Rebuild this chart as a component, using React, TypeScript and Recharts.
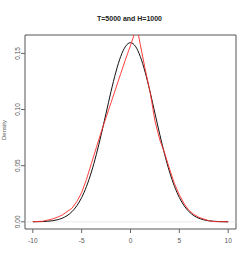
import React from "react";
import { LineChart, Line, XAxis, YAxis, ReferenceArea, ReferenceLine } from "recharts";

const titleText = "T=5000 and H=1000";
const yLabel = "Density";
const xTicks = [-10, -5, 0, 5, 10];
const yTicks = [0, 0.05, 0.1, 0.15];
const yTickLabels = ["0.00", "0.05", "0.10", "0.15"];

const blackX = [-10, -9.5, -9, -8.5, -8, -7.5, -7, -6.5, -6, -5.5, -5, -4.5, -4, -3.5, -3, -2.5, -2, -1.5, -1, -0.5, 0, 0.5, 1, 1.5, 2, 2.5, 3, 3.5, 4, 4.5, 5, 5.5, 6, 6.5, 7, 7.5, 8, 8.5, 9, 9.5, 10];
const blackY = [0.00005, 0.00012, 0.00024, 0.00049, 0.00095, 0.00177, 0.00317, 0.00543, 0.00896, 0.0142, 0.0216, 0.0316, 0.0444, 0.0599, 0.0777, 0.0968, 0.1159, 0.1333, 0.1473, 0.1564, 0.1596, 0.1564, 0.1473, 0.1333, 0.1159, 0.0968, 0.0777, 0.0599, 0.0444, 0.0316, 0.0216, 0.0142, 0.00896, 0.00543, 0.00317, 0.00177, 0.00095, 0.00049, 0.00024, 0.00012, 0.00005];

const redX = [-10, -9, -8, -7.5, -7, -6.5, -6, -5.5, -5, -4.5, -4, -3.5, -3, -2.5, -2, -1.5, -1, -0.5, 0, 0.65, 1, 1.5, 2, 2.5, 3, 3.5, 4, 4.5, 5, 5.5, 6, 6.5, 7, 7.5, 8, 8.5, 9, 10];
const redY = [0.0001, 0.0005, 0.0025, 0.004, 0.006, 0.009, 0.012, 0.018, 0.026, 0.038, 0.052, 0.066, 0.08, 0.093, 0.106, 0.119, 0.132, 0.145, 0.157, 0.174, 0.158, 0.136, 0.116, 0.09, 0.073, 0.061, 0.047, 0.034, 0.024, 0.016, 0.01, 0.0065, 0.004, 0.0025, 0.001, 0.0003, 0.0001, 0];

const blackData = blackX.map((x, i) => ({ x, y: blackY[i] }));
const redData = redX.map((x, i) => ({ x, y: redY[i] }));

const FONT = "'Liberation Sans', Arial, sans-serif";
const X_DOMAIN: [number, number] = [-10.8, 10.8];
const Y_DOMAIN: [number, number] = [-0.0064, 0.1664];

const YTick = (props: any) => {
  const { x, y, payload } = props;
  const idx = yTicks.indexOf(payload.value);
  const label = idx >= 0 ? yTickLabels[idx] : String(payload.value);
  const bx = x + 2;
  return (
    <text
      x={bx}
      y={y}
      transform={`rotate(-90, ${bx}, ${y})`}
      textAnchor="middle"
      fontSize={6.5}
      fill="#555"
      fontFamily={FONT}
    >
      {label}
    </text>
  );
};

export default function App() {
  return (
    <div style={{ position: "absolute", left: 0, top: 0, width: 249, height: 273, background: "#fff" }}>
      <div
        style={{
          position: "absolute",
          left: 0,
          width: 259,
          top: 14,
          textAlign: "center",
          fontFamily: FONT,
          fontWeight: "bold",
          fontSize: 7,
          color: "#222",
          lineHeight: "9px",
        }}
      >
        {titleText}
      </div>
      <div
        style={{
          position: "absolute",
          left: -16,
          top: 126,
          width: 40,
          textAlign: "center",
          transform: "rotate(-90deg)",
          fontFamily: FONT,
          fontSize: 6,
          color: "#555",
          lineHeight: "8px",
        }}
      >
        {yLabel}
      </div>
      <LineChart width={249} height={273} margin={{ top: 35, right: 13, bottom: 24, left: 5 }}>
        <XAxis
          dataKey="x"
          type="number"
          domain={X_DOMAIN}
          ticks={xTicks}
          allowDataOverflow
          axisLine={false}
          tickLine={{ stroke: "#666" }}
          tickSize={4}
          tickMargin={5}
          height={20}
          tick={{ fontSize: 6.5, fill: "#555", fontFamily: FONT }}
        />
        <YAxis
          dataKey="y"
          type="number"
          domain={Y_DOMAIN}
          ticks={yTicks}
          allowDataOverflow
          axisLine={false}
          tickLine={{ stroke: "#666" }}
          tickSize={4}
          tickMargin={3}
          width={20}
          tick={<YTick />}
        />
        <ReferenceLine y={0} stroke="#ddd" strokeWidth={0.6} />
        <Line
          data={blackData}
          dataKey="y"
          type="monotone"
          stroke="#111"
          strokeWidth={1}
          dot={false}
          isAnimationActive={false}
        />
        <Line
          data={redData}
          dataKey="y"
          type="linear"
          stroke="#ff2a2a"
          strokeWidth={0.9}
          dot={false}
          isAnimationActive={false}
        />
        <ReferenceArea
          x1={X_DOMAIN[0]}
          x2={X_DOMAIN[1]}
          y1={Y_DOMAIN[0]}
          y2={Y_DOMAIN[1]}
          fill="none"
          stroke="#555"
          strokeWidth={1}
        />
      </LineChart>
    </div>
  );
}
